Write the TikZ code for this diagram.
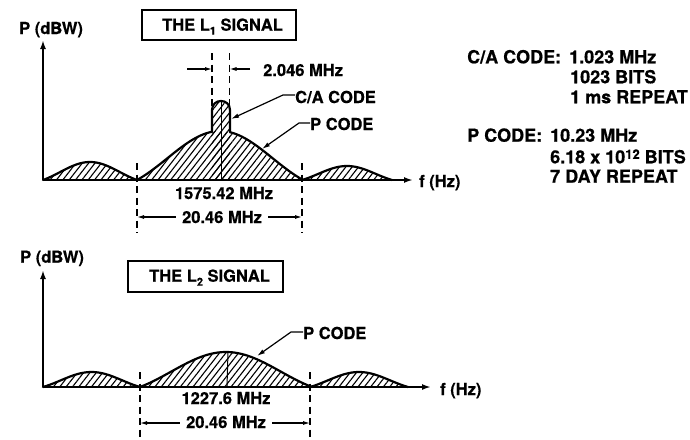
\documentclass[tikz,border=0pt]{standalone}
\usepackage{fontspec}
\setmainfont{TeX Gyre Heros}[BoldFeatures={FakeBold=0.6}]
\usetikzlibrary{arrows.meta,patterns.meta}
% lobe profile: 0.6 sin + 0.4 sin^2
\newcommand\mylobe[4]{%
  \fill[hatch] (#1,#3) -- plot[domain=#1:#2,samples=70] (\x,{#3-#4*(0.6*sin((\x-#1)/(#2-#1)*180)+0.4*(sin((\x-#1)/(#2-#1)*180))^2)}) -- cycle;
  \draw[curve] plot[domain=#1:#2,samples=70] (\x,{#3-#4*(0.6*sin((\x-#1)/(#2-#1)*180)+0.4*(sin((\x-#1)/(#2-#1)*180))^2)});}
\newcommand\mylobepart[6]{%
  \draw[curve] plot[domain=#5:#6,samples=50] (\x,{#3-#4*(0.6*sin((\x-#1)/(#2-#1)*180)+0.4*(sin((\x-#1)/(#2-#1)*180))^2)});}
\tikzset{
  hatch/.style={pattern={Lines[angle=52,distance=5pt,line width=1.1pt]}},
  curve/.style={line width=2.2pt, line join=round, line cap=round},
  axisline/.style={line width=2.4pt, -{Latex[length=9pt,width=6pt]}},
  dimline/.style={line width=1.1pt, dash pattern=on 7pt off 4.5pt},
  dimarrow/.style={line width=1.1pt, -{Latex[length=7pt,width=4pt]}},
  leader/.style={line width=1.2pt, -{Latex[length=8pt,width=4.5pt]}},
  lbl/.style={inner sep=0pt, anchor=base west},
  clbl/.style={inner sep=0pt, anchor=base},
  titlebox/.style={draw, line width=1.3pt, inner sep=0pt},
  big/.style={font=\bfseries\fontsize{18}{20}\selectfont},
}
\begin{document}
\begin{tikzpicture}[x=1pt,y=-1pt,font=\bfseries\fontsize{16.5}{18}\selectfont]
\useasboundingbox (0,0) rectangle (690,439);

% ================= TOP: L1 =================
\coordinate (o1) at (43,180);
\coordinate (y1) at (43,40);
\coordinate (x1) at (413,180);
% lobes
\mylobe{43}{137}{180}{18}
\mylobe{302}{392}{180}{14}
\fill[hatch] (137,180) -- plot[domain=137:303,samples=70] (\x,{180-49*(0.6*sin((\x-137)/166*180)+0.4*(sin((\x-137)/166*180))^2)}) -- cycle;
\fill[hatch] (212,180) -- (212,110) .. controls (212,98) and (230,98) .. (230,110) -- (230,180) -- cycle;
\mylobepart{137}{303}{180}{49}{137}{212}
\mylobepart{137}{303}{180}{49}{230}{303}
\draw[curve] (212,132) -- (212,110) .. controls (212,98) and (230,98) .. (230,110) -- (230,132);
\draw[line width=1pt] (221,101) -- (221,180);
% axes
\draw[axisline] (o1) -- (y1);
\draw[axisline] (o1) -- (x1);
\node[lbl] (py1) at (19,34) {P (dBW)};
\node[lbl] (fx1) at (419,187) {f (Hz)};
% title
\node[titlebox, minimum width=154pt, minimum height=30pt] (tb1) at (219,25) {};
\node[lbl] (tt1) at (162,30.7) {THE L{\fontsize{11}{11}\selectfont\raisebox{-4pt}{1}} SIGNAL};
% 2.046 MHz
\coordinate (ca1t) at (212,53); \coordinate (ca1b) at (212,106);
\coordinate (ca2t) at (229.5,53); \coordinate (ca2b) at (229.5,106);
\draw[dimline] (ca1t) -- (ca1b);
\draw[dimline] (ca2t) -- (ca2b);
\coordinate (ca1a) at (212,69); \coordinate (ca2a) at (229.5,69);
\coordinate (cas1) at (187,69); \coordinate (cas2) at (250,69);
\draw[dimarrow] (cas1) -- (ca1a);
\draw[dimarrow] (cas2) -- (ca2a);
\node[lbl] (cw) at (263,76) {2.046 MHz};
% leaders
\node[lbl] (calab) at (295,103) {C/A CODE};
\coordinate (catip) at (231,119);
\draw[leader] ([yshift=8pt]calab.base west) -- ++(-12,0) -- (catip);
\node[lbl] (plab1) at (310,130) {P CODE};
\coordinate (ptip1) at (262,149);
\draw[leader] ([yshift=7pt]plab1.base west) -- ++(-11,0) -- (ptip1);
% centre freq and bandwidth
\node[clbl] (f1) at (224,199) {1575.42 MHz};
\coordinate (d1t) at (137,163); \coordinate (d1b) at (137,233);
\coordinate (d2t) at (302,163); \coordinate (d2b) at (302,233);
\draw[dimline] (d1t) -- (d1b);
\draw[dimline] (d2t) -- (d2b);
\node[clbl, inner xsep=6pt] (bw1) at (222,223) {20.46 MHz};
\coordinate (bw1l) at (137,217); \coordinate (bw1r) at (302,217);
\draw[dimarrow] (bw1.west |- bw1l) -- (bw1l);
\draw[dimarrow] (bw1.east |- bw1r) -- (bw1r);

% ================= right text =================
\node[lbl,big] (t1) at (467,63.3) {C/A CODE:};
\node[lbl,big] (t2) at (569,63.3) {1.023 MHz};
\node[lbl,big] (t3) at (570,83.3) {1023 BITS};
\node[lbl,big] (t4) at (570,103.3) {1 ms REPEAT};
\node[lbl,big] (t5) at (467,141.7) {P CODE:};
\node[lbl,big] (t6) at (550,141.7) {10.23 MHz};
\node[lbl,big] (t7) at (550,163.3) {6.18 x 10{\fontsize{13}{13}\selectfont\raisebox{4.5pt}{12}} BITS};
\node[lbl,big] (t8) at (550,182.7) {7 DAY REPEAT};

% ================= BOTTOM: L2 =================
\coordinate (o2) at (43,387);
\coordinate (y2) at (43,270);
\coordinate (x2) at (431,387);
\mylobe{43}{140}{387}{15}
\mylobe{310}{408}{387}{15}
\mylobe{140}{312}{387}{35}
\draw[line width=1pt] (228,352) -- (227,387);
\draw[axisline] (o2) -- (y2);
\draw[axisline] (o2) -- (x2);
\node[lbl] (py2) at (20,262.7) {P (dBW)};
\node[lbl] (fx2) at (440,395) {f (Hz)};
\node[titlebox, minimum width=155pt, minimum height=31pt] (tb2) at (205.5,276.5) {};
\node[lbl] (tt2) at (149,281.7) {THE L{\fontsize{11}{11}\selectfont\raisebox{-4pt}{2}} SIGNAL};
\node[lbl] (plab2) at (303,339) {P CODE};
\coordinate (ptip2) at (257,356);
\draw[leader] ([yshift=7pt]plab2.base west) -- ++(-12,0) -- (ptip2);
\node[clbl] (f2) at (226,404) {1227.6 MHz};
\coordinate (e1t) at (140,372); \coordinate (e1b) at (140,439);
\coordinate (e2t) at (310,372); \coordinate (e2b) at (310,439);
\draw[dimline] (e1t) -- (e1b);
\draw[dimline] (e2t) -- (e2b);
\node[clbl, inner xsep=6pt] (bw2) at (226,428) {20.46 MHz};
\coordinate (bw2l) at (140,423); \coordinate (bw2r) at (310,423);
\draw[dimarrow] (bw2.west |- bw2l) -- (bw2l);
\draw[dimarrow] (bw2.east |- bw2r) -- (bw2r);
\end{tikzpicture}
\end{document}
